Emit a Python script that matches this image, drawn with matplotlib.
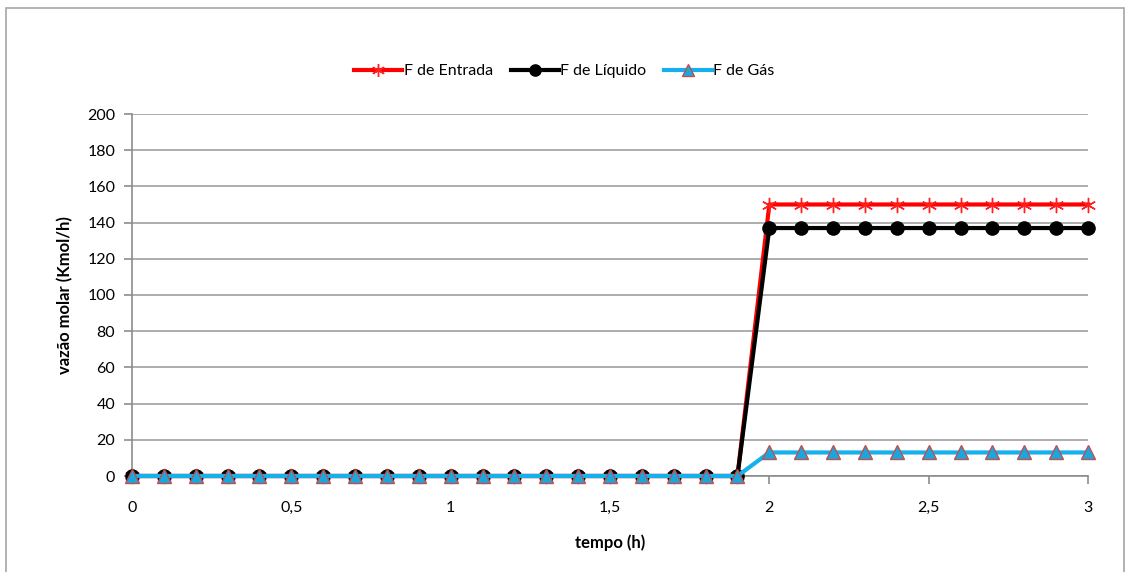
import matplotlib
matplotlib.use("Agg")
from matplotlib import pyplot as plt
from matplotlib.patches import Rectangle

# Data
tempo = [round(0.1 * i, 1) for i in range(31)]
f_entrada = [0] * 20 + [150] * 11
f_liquido = [0] * 20 + [137] * 11
f_gas = [0] * 20 + [13] * 11

x_ticks = [0, 0.5, 1, 1.5, 2, 2.5, 3]
x_labels = ["0", "0,5", "1", "1,5", "2", "2,5", "3"]
y_ticks = list(range(0, 201, 20))

plt.rcParams['font.family'] = ['Lato', 'DejaVu Sans']

fig = plt.figure(figsize=(11.29, 5.72), dpi=100, facecolor='white')
W, H = 1129, 572

# Outer chart frame
fig.patches.append(Rectangle((6 / W, -0.05), (1124 - 6) / W, 1.05 - 8 / H,
                             transform=fig.transFigure, fill=False,
                             edgecolor='#a6a6a6', lw=1.2))

ax = fig.add_axes([132 / W, 1 - 476 / H, (1088 - 132) / W, (476 - 114) / H])

ax.plot(tempo, f_entrada, color='#ff0000', lw=3, marker=(6, 2, 0),
        ms=11, mec='#ff2020', mew=1, label='F de Entrada', zorder=3, clip_on=False)
ax.plot(tempo, f_liquido, color='#000000', lw=3, marker='o',
        ms=9.5, mec='black', label='F de Líquido', zorder=4, clip_on=False)
ax.plot(tempo, f_gas, color='#17b0ea', lw=3, marker='^',
        ms=9.5, mfc='#1aa7e0', mec='#c0504d', mew=1, label='F de Gás', zorder=5,
        clip_on=False)

ax.set_xlim(0, 3)
ax.set_ylim(0, 200)
ax.set_xticks(x_ticks)
ax.set_xticklabels(x_labels)
ax.set_yticks(y_ticks)
ax.grid(axis='y', color='#a0a0a0', lw=1.2)
ax.set_axisbelow(True)

for s in ['top', 'right']:
    ax.spines[s].set_visible(False)
for s in ['left', 'bottom']:
    ax.spines[s].set_color('#8c8c8c')
    ax.spines[s].set_linewidth(1.2)
ax.tick_params(axis='both', direction='out', color='#8c8c8c', length=6,
               width=1.2, labelsize=11.5, pad=6)
ax.tick_params(axis='x', pad=12)

ax.set_xlabel('tempo (h)', fontsize=12, fontweight='bold', labelpad=14)
ax.set_ylabel('vazão molar (Kmol/h)', fontsize=12, fontweight='bold', labelpad=10)

ax.legend(loc='center', bbox_to_anchor=(0.5, (H - 71) / H), bbox_transform=fig.transFigure,
          ncol=3, frameon=False, fontsize=11.5, handlelength=3.0, columnspacing=1.1,
          handletextpad=0.1, markerscale=0.85)

fig.savefig('out.png', dpi=100, facecolor='white')
